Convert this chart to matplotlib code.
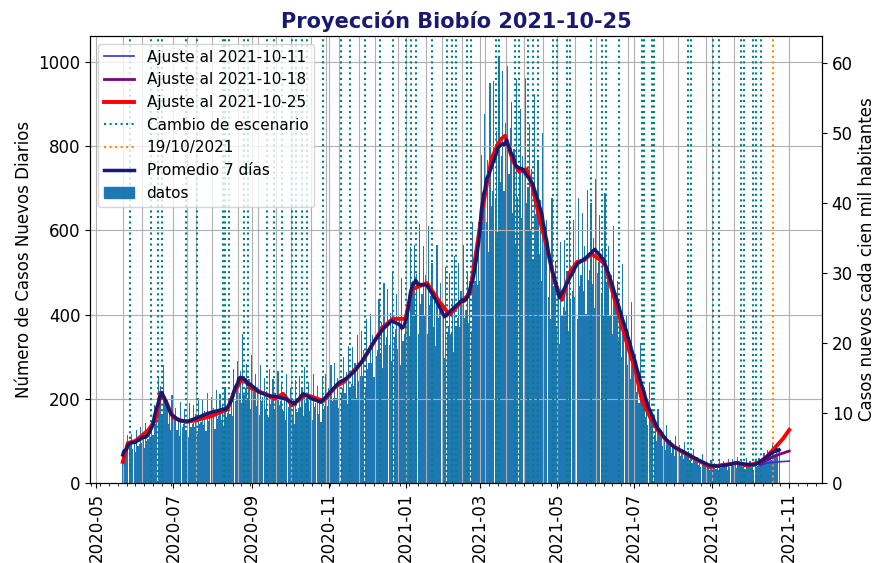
import numpy as np
import pandas as pd
import matplotlib
matplotlib.use('Agg')
import matplotlib.pyplot as plt
import matplotlib.dates as mdates
from matplotlib.patches import Patch
from matplotlib.lines import Line2D

plt.rcParams['font.size'] = 12

# Daily new cases, Biobío; one row per week, first day 2020-05-22
start = '2020-05-22'
casos_2020 = [
    [50, 62, 85, 70, 115, 88, 90], [116, 82, 102, 73, 126, 87, 92],
    [132, 94, 116, 83, 143, 99, 105], [120, 110, 150, 115, 185, 140, 160],
    [250, 185, 230, 165, 280, 190, 205], [200, 140, 175, 125, 210, 148, 157],
    [178, 126, 155, 111, 192, 133, 141], [176, 125, 154, 110, 191, 132, 141],
    [186, 132, 163, 116, 202, 140, 146], [197, 139, 172, 123, 213, 148, 156],
    [204, 145, 179, 128, 221, 153, 160], [211, 150, 185, 132, 229, 158, 167],
    [200, 165, 215, 160, 270, 195, 230], [290, 215, 265, 190, 355, 210, 225],
    [282, 200, 247, 176, 305, 212, 223], [259, 184, 227, 162, 281, 194, 205],
    [250, 177, 218, 156, 270, 187, 198], [246, 174, 215, 154, 267, 185, 194],
    [240, 170, 210, 150, 260, 180, 190], [226, 160, 197, 141, 244, 169, 179],
    [254, 180, 223, 159, 276, 191, 201], [240, 170, 210, 150, 260, 180, 190],
    [230, 163, 202, 144, 250, 173, 182], [258, 183, 226, 161, 280, 194, 203],
    [286, 202, 250, 179, 309, 214, 226], [300, 213, 263, 188, 325, 225, 236],
    [324, 230, 284, 203, 351, 243, 255], [360, 255, 315, 225, 390, 270, 285],
    [402, 285, 352, 251, 436, 302, 317], [438, 310, 383, 274, 475, 329, 346],
    [462, 327, 404, 289, 501, 347, 365], [450, 319, 394, 281, 488, 338, 355],
]
casos_2021 = [
    [400, 330, 430, 350, 560, 460, 480], [566, 401, 496, 354, 614, 425, 448],
    [564, 400, 494, 353, 611, 423, 445], [522, 370, 457, 326, 566, 392, 412],
    [474, 336, 415, 296, 514, 356, 374], [498, 353, 436, 311, 540, 374, 393],
    [522, 370, 457, 326, 566, 392, 412], [500, 380, 480, 360, 620, 470, 480],
    [560, 470, 620, 480, 780, 620, 670], [876, 620, 767, 548, 949, 657, 693],
    [954, 676, 835, 596, 1011, 716, 777], [978, 693, 856, 611, 990, 734, 843],
    [906, 642, 793, 566, 960, 680, 738], [888, 629, 777, 555, 962, 666, 703],
    [852, 604, 746, 533, 923, 639, 673], [768, 544, 672, 480, 832, 576, 608],
    [624, 442, 546, 390, 676, 468, 494], [528, 374, 462, 330, 572, 396, 418],
    [576, 408, 504, 360, 624, 432, 456], [624, 442, 546, 390, 676, 468, 494],
    [642, 455, 562, 401, 696, 482, 507], [666, 472, 583, 416, 722, 500, 526],
    [636, 451, 557, 398, 689, 477, 502], [564, 400, 494, 353, 611, 423, 445],
    [480, 340, 420, 300, 520, 360, 380], [396, 281, 347, 248, 429, 297, 312],
    [306, 217, 268, 191, 332, 230, 241], [222, 157, 194, 139, 241, 167, 175],
    [162, 115, 142, 101, 176, 122, 127], [126, 89, 110, 79, 137, 95, 99],
    [102, 72, 89, 64, 111, 77, 80], [90, 64, 79, 56, 98, 68, 70],
    [76, 54, 66, 47, 82, 57, 59], [62, 44, 55, 39, 68, 47, 49],
    [50, 36, 44, 32, 55, 38, 39], [48, 34, 42, 30, 52, 36, 38],
    [52, 37, 45, 32, 56, 39, 40], [58, 41, 50, 36, 62, 43, 46],
    [54, 38, 47, 34, 59, 41, 42], [52, 37, 45, 32, 56, 39, 40],
    [60, 45, 58, 42, 72, 52, 56], [78, 58, 74, 54, 95, 66, 65],
    [96, 70, 84],
]

# fitted model curves (knots)
ajuste_25_fechas = ['2020-05-22', '2020-05-26', '2020-06-01', '2020-06-11', '2020-06-17', '2020-06-21',
                    '2020-06-25', '2020-07-01', '2020-07-11', '2020-07-20', '2020-08-01', '2020-08-13',
                    '2020-08-18', '2020-08-25', '2020-09-01', '2020-09-13', '2020-09-19', '2020-09-26',
                    '2020-10-03', '2020-10-14', '2020-10-28', '2020-11-07', '2020-11-13', '2020-11-28',
                    '2020-12-14', '2020-12-22', '2021-01-01', '2021-01-06', '2021-01-18', '2021-01-28',
                    '2021-02-05', '2021-02-14', '2021-02-21', '2021-03-03', '2021-03-10', '2021-03-17',
                    '2021-03-21', '2021-03-27', '2021-04-01', '2021-04-07', '2021-04-12', '2021-04-17',
                    '2021-04-23', '2021-04-29', '2021-05-05', '2021-05-11', '2021-05-17', '2021-05-23',
                    '2021-05-28', '2021-06-02', '2021-06-08', '2021-06-13', '2021-06-20', '2021-06-26',
                    '2021-07-02', '2021-07-07', '2021-07-14', '2021-07-21', '2021-07-29', '2021-08-06',
                    '2021-08-14', '2021-08-22', '2021-08-30', '2021-09-07', '2021-09-15', '2021-09-21',
                    '2021-09-27', '2021-10-02', '2021-10-09', '2021-10-14', '2021-10-21', '2021-10-27',
                    '2021-11-01']
ajuste_25_valores = [50, 95, 100, 125, 150, 215, 195, 155, 145, 150, 160, 175,
                     215, 250, 225, 210, 200, 212, 185, 210, 195, 230, 240, 290,
                     370, 390, 390, 460, 475, 430, 400, 430, 450, 650, 770, 815,
                     825, 765, 740, 745, 700, 630, 560, 480, 435, 500, 525, 530,
                     545, 535, 520, 465, 390, 325, 270, 200, 155, 120, 95, 78,
                     64, 52, 38, 42, 45, 48, 42, 44, 50, 62, 85, 105, 126]
ajuste_11_fechas = ['2021-10-09', '2021-10-14', '2021-10-21', '2021-11-01']
ajuste_11_valores = [42, 47, 50, 52]
ajuste_18_fechas = ['2021-10-09', '2021-10-14', '2021-10-21', '2021-11-01']
ajuste_18_valores = [45, 55, 65, 76]

cambios_escenario = ['2020-05-28', '2020-06-13', '2020-06-19', '2020-06-22', '2020-07-11', '2020-07-20',
                     '2020-08-09', '2020-08-11', '2020-08-14', '2020-08-26', '2020-08-29', '2020-09-13',
                     '2020-09-19', '2020-09-25', '2020-10-03', '2020-10-06', '2020-10-11', '2020-10-15',
                     '2020-10-28', '2020-11-11', '2020-11-18', '2020-11-30', '2020-12-12', '2020-12-22',
                     '2021-01-01', '2021-01-05', '2021-01-09', '2021-01-22', '2021-02-03', '2021-02-07',
                     '2021-02-10', '2021-02-19', '2021-02-22', '2021-03-14', '2021-03-16', '2021-03-29',
                     '2021-04-01', '2021-04-08', '2021-04-12', '2021-04-16', '2021-04-28', '2021-05-01',
                     '2021-05-09', '2021-05-11', '2021-05-28', '2021-06-06', '2021-06-09', '2021-06-19',
                     '2021-07-07', '2021-07-09', '2021-07-15', '2021-07-17', '2021-08-13', '2021-08-15',
                     '2021-09-02', '2021-09-06', '2021-09-24', '2021-09-26', '2021-10-03', '2021-10-06',
                     '2021-10-10']
lineas_grises = ['2020-05-22', '2020-06-06', '2020-07-12', '2020-07-19', '2020-08-01', '2020-08-21',
                 '2020-09-06', '2020-09-20', '2020-10-02', '2020-10-18', '2020-10-30', '2020-11-09',
                 '2020-11-25', '2020-12-08', '2020-12-26', '2021-01-17', '2021-01-30', '2021-02-15',
                 '2021-03-05', '2021-03-22', '2021-04-05', '2021-04-20', '2021-05-15', '2021-06-01',
                 '2021-06-26', '2021-07-24', '2021-08-05', '2021-08-27', '2021-09-18']
fecha_reporte = '2021-10-19'
poblacion_100k = 16.64  # habitantes / 100000

casos = sum(casos_2020, []) + sum(casos_2021, [])
fechas = pd.date_range(start, periods=len(casos), freq='D')
serie = pd.Series(casos, index=fechas)
promedio = serie.rolling(7, center=True, min_periods=1).mean()

fig, ax = plt.subplots(figsize=(8.77, 5.63), dpi=100)
fig.subplots_adjust(left=0.1026, right=0.9373, bottom=0.142, top=0.936)

ax.bar(fechas, casos, width=0.95, color='#1f77b4', zorder=1)
ax.plot(pd.to_datetime(ajuste_11_fechas), ajuste_11_valores, color='#3030e0', lw=1.2, zorder=4)
ax.plot(pd.to_datetime(ajuste_18_fechas), ajuste_18_valores, color='purple', lw=2, zorder=4)
ax.plot(pd.to_datetime(ajuste_25_fechas), ajuste_25_valores, color='red', lw=2.8, zorder=4)
for d in lineas_grises:
    ax.axvline(pd.Timestamp(d), color='#b0b0b0', lw=0.8, zorder=1.5)
for d in cambios_escenario:
    ax.axvline(pd.Timestamp(d), color='teal', ls=':', lw=1.5, zorder=2)
ax.axvline(pd.Timestamp(fecha_reporte), color='darkorange', ls=':', lw=1.5, zorder=2)
ax.plot(promedio.index, promedio.values, color='midnightblue', lw=2.5, zorder=5)

ax.grid(True)
ax.set_xlim(pd.Timestamp('2020-04-26'), pd.Timestamp('2021-11-27'))
ymax = max(casos) * 1.05
ax.set_ylim(0, ymax)
ax.xaxis.set_major_locator(mdates.MonthLocator(bymonth=[1, 3, 5, 7, 9, 11]))
ax.xaxis.set_major_formatter(mdates.DateFormatter('%Y-%m'))
ax.xaxis.set_minor_locator(mdates.WeekdayLocator(byweekday=mdates.MO))
plt.setp(ax.get_xticklabels(), rotation=90)
ax.set_ylabel('Número de Casos Nuevos Diarios')
ax.set_title('Proyección Biobío 2021-10-25', fontsize=15, fontweight='bold', color='midnightblue')

ax2 = ax.twinx()
ax2.set_ylim(0, ymax / poblacion_100k)
ax2.set_ylabel('Casos nuevos cada cien mil habitantes')

handles = [Line2D([], [], color='#3030e0', lw=1.2),
           Line2D([], [], color='purple', lw=2),
           Line2D([], [], color='red', lw=2.8),
           Line2D([], [], color='teal', ls=':', lw=1.5),
           Line2D([], [], color='darkorange', ls=':', lw=1.5),
           Line2D([], [], color='midnightblue', lw=2.5),
           Patch(color='#1f77b4')]
labels = ['Ajuste al 2021-10-11', 'Ajuste al 2021-10-18', 'Ajuste al 2021-10-25',
          'Cambio de escenario', '19/10/2021', 'Promedio 7 días', 'datos']
ax.legend(handles, labels, loc='upper left', fontsize=11)

fig.savefig('out.png', dpi=100)
